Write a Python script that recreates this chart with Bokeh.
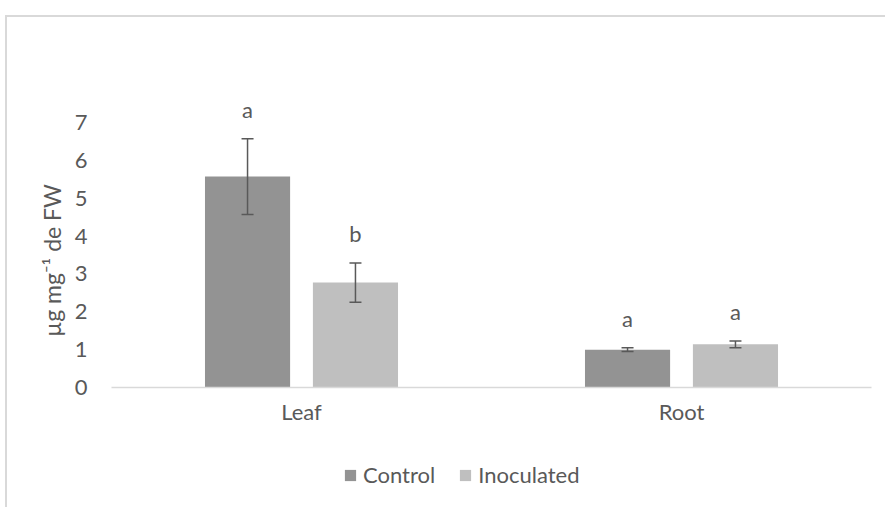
from bokeh.plotting import figure
from bokeh.layouts import column
from bokeh.models import ColumnDataSource, FactorRange, Range1d, FixedTicker, Whisker, TeeHead, Legend, LegendItem
from bokeh.transform import dodge
from bokeh.core.properties import value
from bokeh.embed import file_html
from bokeh.resources import INLINE

# ---- data ----
categories = ["Leaf", "Root"]
series = ["Control", "Inoculated"]
control = [5.57, 1.00]
inoculated = [2.77, 1.14]
control_err = [1.00, 0.05]
inoculated_err = [0.52, 0.09]
control_sig = ["a", "a"]
inoculated_sig = ["b", "a"]
y_ticks = [0, 1, 2, 3, 4, 5, 6, 7]

FONT = "Lato"
TXT = "#595959"
C_CONTROL = "#939393"
C_INOC = "#bfbfbf"
FS = "22px"

def make_src(vals, errs, sig):
    return ColumnDataSource(dict(
        cat=categories, val=vals,
        upper=[v + e for v, e in zip(vals, errs)],
        lower=[v - e for v, e in zip(vals, errs)],
        sig=sig))

src_c = make_src(control, control_err, control_sig)
src_i = make_src(inoculated, inoculated_err, inoculated_sig)

p = figure(width=878, height=418, x_range=FactorRange(*categories, range_padding=0),
           y_range=Range1d(0, 7.79), output_backend="svg", toolbar_location=None,
           min_border_left=104, min_border_right=14, min_border_top=75, min_border_bottom=48)
p.outline_line_color = None
p.xgrid.grid_line_color = None
p.ygrid.grid_line_color = None
p.background_fill_color = "white"
p.border_fill_color = "white"

off = 0.142
bw = 0.224
p.vbar(x=dodge("cat", -off, range=p.x_range), top="val", width=bw, source=src_c,
       fill_color=C_CONTROL, line_color=None)
p.vbar(x=dodge("cat", off, range=p.x_range), top="val", width=bw, source=src_i,
       fill_color=C_INOC, line_color=None)

for src, o in ((src_c, -off), (src_i, off)):
    w = Whisker(source=src, base=dodge("cat", o, range=p.x_range), upper="upper", lower="lower",
                line_color=TXT, line_width=1.5, level="overlay",
                upper_head=TeeHead(size=12, line_color=TXT, line_width=1.5),
                lower_head=TeeHead(size=12, line_color=TXT, line_width=1.5))
    p.add_layout(w)
    p.text(x=dodge("cat", o, range=p.x_range), y="upper", text="sig", source=src,
           text_align="center", text_baseline="middle", y_offset=-29,
           text_font=value(FONT), text_font_size=FS, text_color=TXT)

xa = p.xaxis[0]
xa.axis_line_color = "#d9d9d9"
xa.axis_line_width = 1.5
xa.major_tick_line_color = None
xa.minor_tick_line_color = None
xa.major_label_standoff = 4
xa.major_label_text_font = FONT
xa.major_label_text_font_size = FS
xa.major_label_text_color = TXT

ya = p.yaxis[0]
ya.ticker = FixedTicker(ticks=y_ticks)
ya.axis_line_color = None
ya.major_tick_line_color = None
ya.minor_tick_line_color = None
ya.major_label_standoff = 18
ya.major_label_text_font = FONT
ya.major_label_text_font_size = FS
ya.major_label_text_color = TXT
ya.axis_label = "µg mg⁻¹ de FW" + "\u00a0" * 7
ya.axis_label_text_font = FONT
ya.axis_label_text_font_size = "23px"
ya.axis_label_text_font_style = "normal"
ya.axis_label_text_color = TXT
ya.axis_label_standoff = 6

# legend strip below the chart (proxy renderers are hidden; only their legend swatches show)
p2 = figure(width=878, height=72, x_range=FactorRange(*categories), y_range=Range1d(0, 1),
            output_backend="svg", toolbar_location=None, x_axis_type=None, y_axis_type=None,
            min_border_left=0, min_border_right=0, min_border_top=0, min_border_bottom=0)
p2.outline_line_color = None
p2.xgrid.grid_line_color = None
p2.ygrid.grid_line_color = None
g_c = p2.vbar(x="cat", top="val", width=0.2, source=src_c, fill_color=C_CONTROL,
              line_color=None, visible=False)
g_i = p2.vbar(x="cat", top="val", width=0.2, source=src_i, fill_color=C_INOC,
              line_color=None, visible=False)
legend = Legend(items=[LegendItem(label=series[0], renderers=[g_c]),
                       LegendItem(label=series[1], renderers=[g_i])],
                orientation="horizontal", location=(232, 19),
                glyph_width=14, glyph_height=14, label_standoff=6, spacing=23,
                padding=0, margin=0, border_line_color=None, background_fill_alpha=0,
                inactive_fill_alpha=0,
                label_text_font=FONT, label_text_font_size=FS, label_text_color=TXT)
p2.add_layout(legend, "center")

layout = column(p, p2, spacing=0, margin=(15, 0, 0, 5),
                styles={"border-top": "2px solid #d9d9d9", "border-left": "2px solid #d9d9d9"})
open("out.html", "w").write(file_html(layout, INLINE))
